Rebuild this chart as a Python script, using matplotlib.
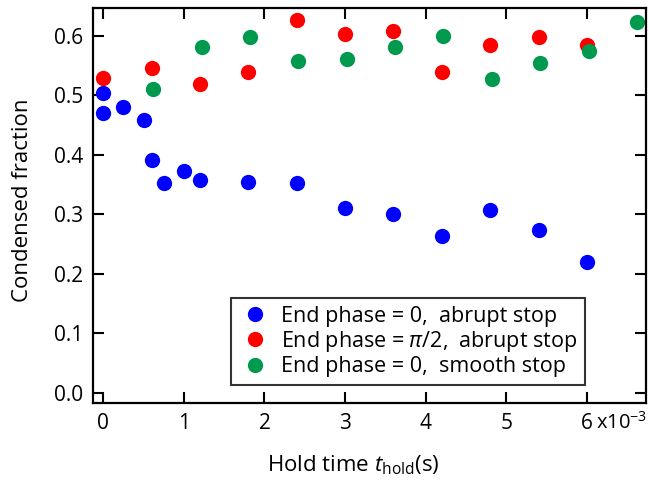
import matplotlib
matplotlib.use('Agg')
import matplotlib.pyplot as plt

# hold time in ms (axis is in units of 1e-3 s)
t_blue = [0, 0, 0.25, 0.5, 0.6, 0.75, 1.0, 1.2, 1.8, 2.4, 3.0, 3.6, 4.2, 4.8, 5.4, 6.0]
f_blue = [0.503, 0.470, 0.480, 0.458, 0.391, 0.352, 0.373, 0.357, 0.354, 0.352,
          0.310, 0.300, 0.264, 0.307, 0.273, 0.220]

t_red = [0, 0.6, 1.2, 1.8, 2.4, 3.0, 3.6, 4.2, 4.8, 5.4, 6.0]
f_red = [0.528, 0.545, 0.519, 0.538, 0.627, 0.603, 0.607, 0.538, 0.584, 0.598, 0.585]

t_green = [0.62, 1.22, 1.82, 2.42, 3.02, 3.62, 4.22, 4.82, 5.42, 6.02, 6.62]
f_green = [0.510, 0.581, 0.598, 0.557, 0.560, 0.581, 0.600, 0.527, 0.554, 0.574, 0.622]

labels = ['End phase = 0,  abrupt stop',
          r'End phase = $\pi$/2,  abrupt stop',
          'End phase = 0,  smooth stop']

plt.rcParams['font.family'] = ['Open Sans', 'DejaVu Sans']
plt.rcParams['mathtext.fontset'] = 'custom'
plt.rcParams['mathtext.rm'] = 'Open Sans'
plt.rcParams['mathtext.it'] = 'Open Sans:italic'

fig = plt.figure(figsize=(6.49, 4.83), dpi=100)
ax = fig.add_axes([0.143, 0.166, 0.852, 0.817])

ms = 11
ax.plot(t_blue, f_blue, 'o', color='#0000ff', ms=ms, mec='none', label=labels[0])
ax.plot(t_red, f_red, 'o', color='#ff0000', ms=ms, mec='none', label=labels[1])
ax.plot(t_green, f_green, 'o', color='#009a4e', ms=ms, mec='none', label=labels[2])

ax.set_xlim(-0.13, 6.73)
ax.set_ylim(-0.017, 0.646)
ax.set_xticks(range(7))
ax.set_yticks([0.0, 0.1, 0.2, 0.3, 0.4, 0.5, 0.6])
ax.set_yticklabels(['0.0', '0.1', '0.2', '0.3', '0.4', '0.5', '0.6'])

ax.tick_params(direction='in', length=8, width=1.5, labelsize=15,
               top=True, right=True, pad=7)
for s in ax.spines.values():
    s.set_linewidth(1.6)

ax.text(6.11, -0.05, r'x10$^{-3}$', fontsize=14.5, ha='left', va='center')

ax.set_xlabel(r'Hold time $t$$_{\mathrm{hold}}$(s)', fontsize=16)
ax.set_ylabel('Condensed fraction', fontsize=16)
ax.xaxis.set_label_coords(0.472, -0.128)
ax.yaxis.set_label_coords(-0.108, 0.514)

leg = ax.legend(loc='lower right', bbox_to_anchor=(0.89, 0.046), fontsize=15.5,
                frameon=True, fancybox=False, borderaxespad=0, handletextpad=0.4,
                labelspacing=0.1, borderpad=0.35, handlelength=1.6)
leg.get_frame().set_edgecolor('black')
leg.get_frame().set_linewidth(1.5)

fig.savefig('out.png', dpi=100)
